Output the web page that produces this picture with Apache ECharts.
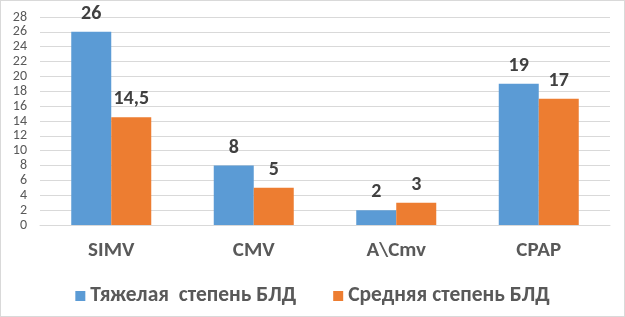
<!DOCTYPE html>
<html>
<head>
<meta charset="utf-8">
<script src="https://cdn.jsdelivr.net/npm/echarts@6/dist/echarts.min.js"></script>
<style>
  html, body { margin: 0; padding: 0; background: #fff; }
  #chart { width: 623px; height: 315px; border: 1px solid #d9d9d9; }
</style>
</head>
<body>
<div id="chart"></div>
<script>
// data
var categories = ['SIMV', 'CMV', 'A\\Cmv', 'CPAP']
var severe = [26, 8, 2, 19]
var moderate = [14.5, 5, 3, 17]
var seriesNames = ['Тяжелая  степень БЛД', 'Средняя степень БЛД']

var font = 'Carlito, "Open Sans", "DejaVu Sans", sans-serif'

function fmt(p) {
  return String(p.value).replace('.', ',')
}

var chart = echarts.init(document.getElementById('chart'))
chart.setOption({
  animation: false,
  textStyle: { fontFamily: font },
  grid: { left: 39, right: 14, top: 16, bottom: 91 },
  legend: {
    top: 279,
    left: 'center',
    itemWidth: 10,
    itemHeight: 10,
    itemGap: 37,
    icon: 'rect',
    textStyle: { fontSize: 21.5, fontWeight: 'bold', color: '#595959', fontFamily: font },
    data: seriesNames
  },
  xAxis: {
    type: 'category',
    data: categories,
    axisTick: { show: false },
    axisLine: { lineStyle: { color: '#d9d9d9' } },
    axisLabel: { fontSize: 21, fontWeight: 'bold', color: '#595959', margin: 15 }
  },
  yAxis: {
    type: 'value',
    min: 0,
    max: 28,
    interval: 2,
    axisLine: { show: false },
    axisTick: { show: false },
    axisLabel: { fontSize: 14, color: '#595959', margin: 13 },
    splitLine: { lineStyle: { color: '#d9d9d9' } }
  },
  series: [
    {
      name: seriesNames[0],
      type: 'bar',
      data: severe,
      barWidth: 40,
      barGap: '0%',
      itemStyle: { color: '#5B9BD5' },
      label: { show: true, position: 'top', distance: 8, fontSize: 20, fontWeight: 'bold', color: '#404040', formatter: fmt }
    },
    {
      name: seriesNames[1],
      type: 'bar',
      data: moderate,
      barWidth: 40,
      itemStyle: { color: '#ED7D31' },
      label: { show: true, position: 'top', distance: 8, fontSize: 20, fontWeight: 'bold', color: '#404040', formatter: fmt }
    }
  ]
})
</script>
</body>
</html>
